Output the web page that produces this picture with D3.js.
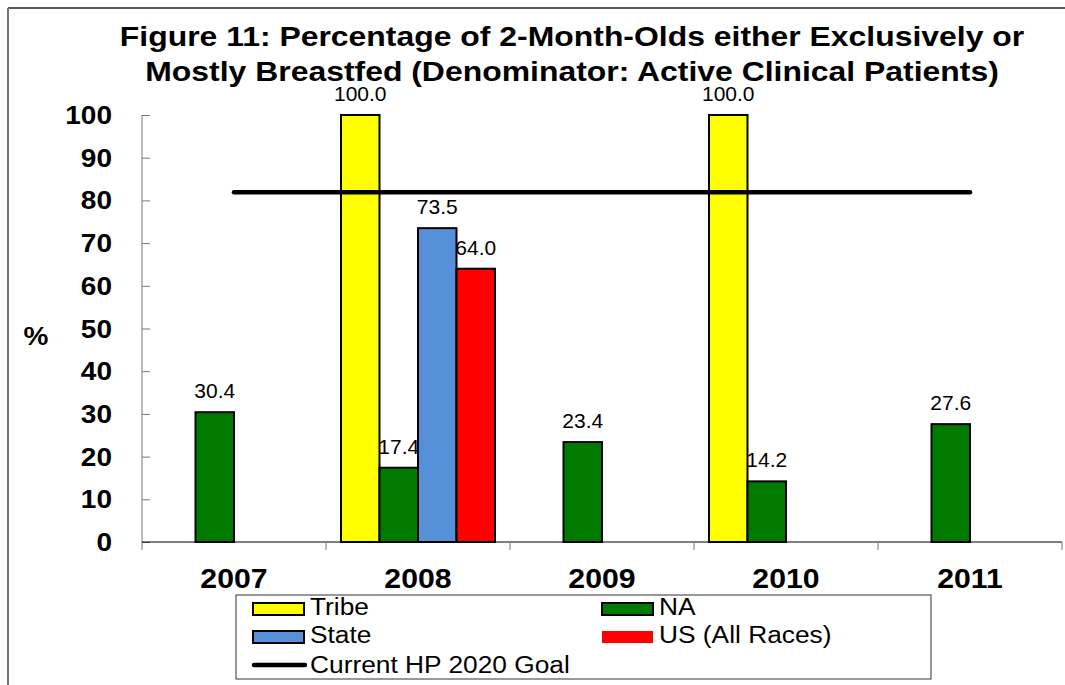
<!DOCTYPE html>
<html>
<head>
<meta charset="utf-8">
<script src="https://cdn.jsdelivr.net/npm/d3@7"></script>
<style>
  html, body { margin: 0; padding: 0; background: #fff; }
  svg text { font-family: "Liberation Sans", Arial, sans-serif; fill: #000; }
</style>
</head>
<body>
<svg id="chart" width="1065" height="685"></svg>
<script>
// Breastfeeding rates at 2 months, by year and comparison group
const years = ["2007", "2008", "2009", "2010", "2011"];
const seriesNames = ["Tribe", "NA", "State", "US (All Races)"];
const tribe = [null, 100.0, null, 100.0, null];
const na = [30.4, 17.4, 23.4, 14.2, 27.6];
const state = [null, 73.5, null, null, null];
const us = [null, 64.0, null, null, null];
const hpGoal = 81.9;
const yTicks = [0, 10, 20, 30, 40, 50, 60, 70, 80, 90, 100];
const titleLines = [
  "Figure 11: Percentage of 2-Month-Olds either Exclusively or",
  "Mostly Breastfed (Denominator: Active Clinical Patients)"
];
const goalLabel = "Current HP 2020 Goal";

const seriesValues = [tribe, na, state, us];
const fills = ["#ffff00", "#007a00", "#5590d8", "#ff0000"];

const SX = 1.12; // text is drawn slightly wide
const svg = d3.select("#chart");

function label(g, x, y, txt, size, weight, anchor, sx) {
  return g.append("text")
    .attr("transform", `translate(${x},${y}) scale(${sx || SX},1)`)
    .attr("font-size", size)
    .attr("font-weight", weight || "normal")
    .attr("text-anchor", anchor || "start")
    .text(txt);
}

// outer frame (top and left edges)
svg.append("line").attr("x1", 8).attr("y1", 8).attr("x2", 1065).attr("y2", 8)
  .attr("stroke", "#222").attr("stroke-width", 1.5);
svg.append("line").attr("x1", 8).attr("y1", 8).attr("x2", 8).attr("y2", 685)
  .attr("stroke", "#777").attr("stroke-width", 2);

// title
titleLines.forEach((t, i) => label(svg, 572, 46 + i * 35, t, 28.5, "bold", "middle"));

const plot = { left: 142, right: 1062, top: 115, bottom: 542 };

const x = d3.scaleBand().domain(years).range([plot.left, plot.right]).padding(0);
const xs = d3.scaleBand().domain(seriesNames)
  .range([15, x.bandwidth() - 15]).padding(0);
const y = d3.scaleLinear().domain([0, 100]).range([plot.bottom, plot.top]);

// y axis: ticks point inward
const yAxis = svg.append("g").attr("transform", `translate(${plot.left},0)`)
  .call(d3.axisRight(y).tickValues(yTicks).tickSize(8).tickFormat(""));
yAxis.select(".domain").remove();
yAxis.selectAll(".tick line").attr("stroke", "#777");
svg.append("line").attr("x1", plot.left).attr("x2", plot.left)
  .attr("y1", plot.top).attr("y2", plot.bottom + 8)
  .attr("stroke", "#777").attr("stroke-width", 1);

yTicks.forEach(v => label(svg, 112, y(v) + 9, String(v), 25, "bold", "end"));
label(svg, 36, 345, "%", 25, "bold", "middle");

// x axis with boundary ticks below
svg.append("line").attr("x1", plot.left).attr("x2", plot.right)
  .attr("y1", plot.bottom).attr("y2", plot.bottom)
  .attr("stroke", "#000").attr("stroke-width", 1);
const bounds = years.map(d => x(d)).concat([plot.right]);
svg.append("g").selectAll("line").data(bounds.slice(1)).join("line")
  .attr("x1", d => d).attr("x2", d => d)
  .attr("y1", plot.bottom).attr("y2", plot.bottom + 8)
  .attr("stroke", "#777");
years.forEach(d => label(svg, x(d) + x.bandwidth() / 2, 588, d, 27, "bold", "middle"));

// flatten the bar records
const bars = [];
seriesValues.forEach((vals, si) => {
  vals.forEach((v, i) => {
    if (v !== null) bars.push({ year: years[i], series: seriesNames[si], si, value: v });
  });
});

// value labels sit under the bars
const labelLayer = svg.append("g");
bars.forEach(b => {
  label(labelLayer, x(b.year) + xs(b.series) + xs.bandwidth() / 2, y(b.value) - 14,
    b.value.toFixed(1), 20, "normal", "middle", 1.05);
});

svg.append("g").selectAll("rect").data(bars).join("rect")
  .attr("x", d => x(d.year) + xs(d.series))
  .attr("y", d => y(d.value))
  .attr("width", xs.bandwidth())
  .attr("height", d => y(0) - y(d.value))
  .attr("fill", d => fills[d.si])
  .attr("stroke", "#000")
  .attr("stroke-width", 2);

// HP 2020 goal line across the year centres
svg.append("line")
  .attr("x1", x(years[0]) + x.bandwidth() / 2)
  .attr("x2", x(years[years.length - 1]) + x.bandwidth() / 2)
  .attr("y1", y(hpGoal)).attr("y2", y(hpGoal))
  .attr("stroke", "#000").attr("stroke-width", 4.5).attr("stroke-linecap", "round");

// legend
const lg = svg.append("g");
lg.append("rect").attr("x", 236).attr("y", 595).attr("width", 695).attr("height", 84)
  .attr("fill", "#fff").attr("stroke", "#333").attr("stroke-width", 1);
const legendItems = [
  { name: seriesNames[0], si: 0, x: 253, y: 603 },
  { name: seriesNames[1], si: 1, x: 602, y: 603 },
  { name: seriesNames[2], si: 2, x: 253, y: 631 },
  { name: seriesNames[3], si: 3, x: 602, y: 631 }
];
legendItems.forEach(it => {
  lg.append("rect").attr("x", it.x).attr("y", it.y).attr("width", 51).attr("height", 12)
    .attr("fill", fills[it.si])
    .attr("stroke", it.si === 3 ? "none" : "#000")
    .attr("stroke-width", it.si === 3 ? 0 : 2);
  label(lg, it.x + 57, it.y + 12, it.name, 23.5, "normal", "start");
});
lg.append("line").attr("x1", 254).attr("x2", 305).attr("y1", 665).attr("y2", 665)
  .attr("stroke", "#000").attr("stroke-width", 4.5).attr("stroke-linecap", "round");
label(lg, 310, 673, goalLabel, 23.5, "normal", "start");
</script>
</body>
</html>
